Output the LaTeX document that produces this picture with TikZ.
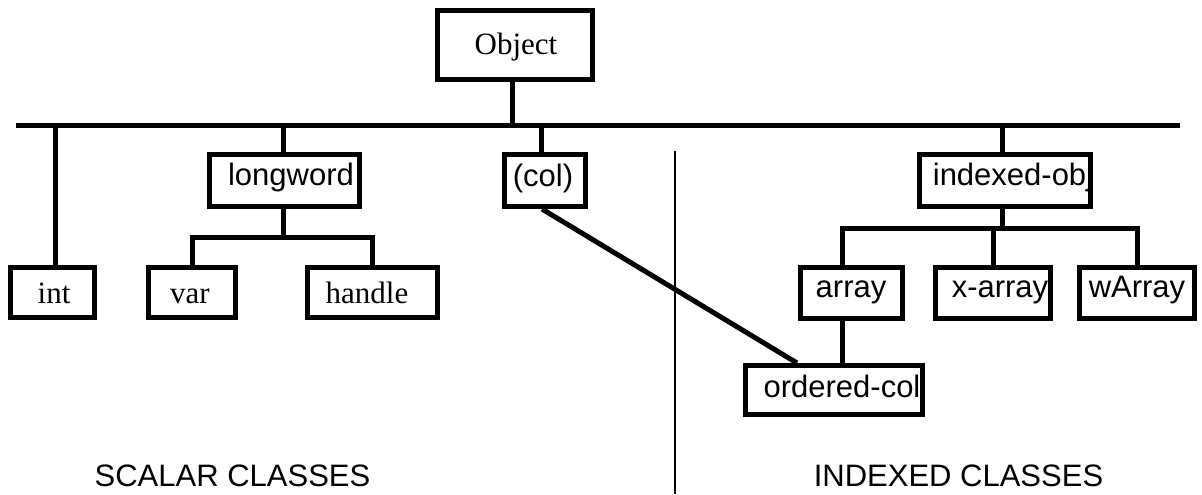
\documentclass[tikz,border=0pt]{standalone}
\usepackage{fontspec}
\setmainfont{Liberation Serif}
\setsansfont{Liberation Sans}
\newcommand\myserif{\rmfamily\fontsize{23.25pt}{28pt}\selectfont}
\newcommand\mysans{\sffamily\fontsize{23.25pt}{28pt}\selectfont}
\begin{document}
\begin{tikzpicture}[x=0.75pt,y=-0.75pt,
  bx/.style n args={2}{draw, line width=3.75pt, minimum width=#1*0.75pt, minimum height=#2*0.75pt, inner sep=0pt},
  ln/.style={line width=3.75pt, line join=miter},
  divider/.style={line width=1.5pt},
  rmtxt/.style={font=\myserif, anchor=base, inner sep=0pt},
  sftxt/.style={font=\mysans, anchor=base, inner sep=0pt}]
\useasboundingbox (0,0) rectangle (1202,494);

% texts (drawn first so borders lie over them)
\node[rmtxt] (tobj) at (516,54) {Object};
\node[sftxt] (tlw) at (291,185) {longword};
\node[sftxt] (tcol) at (543,186) {(col)};
\node[sftxt] (tiobj) at (1013,185) {indexed-obj};
\node[rmtxt] (tint) at (54,303) {int};
\node[rmtxt] (tvar) at (190,303) {var};
\node[rmtxt] (thandle) at (367,303) {handle};
\node[sftxt] (tarray) at (851,297) {array};
\node[sftxt] (txarr) at (1000,297) {x-array};
\node[sftxt] (twarr) at (1137,297) {wArray};
\node[sftxt] (tocol) at (842,397) {ordered-col};

% boxes
\node[bx={155}{69}] (obj) at (515,45) {};
\node[bx={150}{52}] (lw) at (284.5,180.5) {};
\node[bx={81}{52}] (col) at (545,180.5) {};
\node[bx={171}{52}] (iobj) at (1005,180.5) {};
\node[bx={84}{50}] (int) at (52.5,292.5) {};
\node[bx={87}{50}] (var) at (192,292.5) {};
\node[bx={130}{50}] (handle) at (372.5,292.5) {};
\node[bx={102}{51}] (array) at (851.5,293) {};
\node[bx={115}{51}] (xarr) at (993,293) {};
\node[bx={115}{51}] (warr) at (1137,293) {};
\node[bx={177}{49}] (ocol) at (834,390) {};

% main bar
\coordinate (barL) at (16,125);
\coordinate (barR) at (1180,125);
\draw[ln] (barL) -- (barR);
\draw[ln] ([xshift=-2.25pt]obj.south) -- ([xshift=-2.25pt]obj.south |- barL);
\draw[ln] ([xshift=2.6pt]int.north) -- ([xshift=2.6pt]int.north |- barL);
\draw[ln] ([xshift=-1.1pt]lw.north) -- ([xshift=-1.1pt]lw.north |- barL);
\draw[ln] ([xshift=-3pt]col.north) -- ([xshift=-3pt]col.north |- barL);
\draw[ln] ([xshift=-2.25pt]iobj.north) -- ([xshift=-2.25pt]iobj.north |- barL);

% longword subtree
\coordinate (br1) at (0,237);
\draw[ln] ([xshift=-1.1pt]lw.south) -- ([xshift=-1.1pt]lw.south |- br1);
\draw[ln] (var.north) |- (handle.north |- br1) -- (handle.north);

% indexed-obj subtree
\coordinate (br2) at (0,228);
\draw[ln] ([xshift=-2.25pt]iobj.south) -- ([xshift=-2.25pt]iobj.south |- br2);
\draw[ln] ([xshift=-6.4pt]array.north) |- (warr.north |- br2) -- (warr.north);
\draw[ln] (xarr.north) -- (xarr.north |- br2);
\draw[ln] ([xshift=-6.4pt]array.south) -- ([xshift=-6.4pt]array.south |- ocol.north);

% (col) to ordered-col
\draw[ln] ([xshift=-2.25pt]col.south) -- ([xshift=-27.75pt]ocol.north);

% divider
\coordinate (dT) at (675,151);
\coordinate (dB) at (675,494);
\draw[divider] (dT) -- (dB);

% captions
\node[sftxt] (scalar) at (232.5,486) {SCALAR CLASSES};
\node[sftxt] (indexed) at (958.5,486) {INDEXED CLASSES};
\end{tikzpicture}
\end{document}
